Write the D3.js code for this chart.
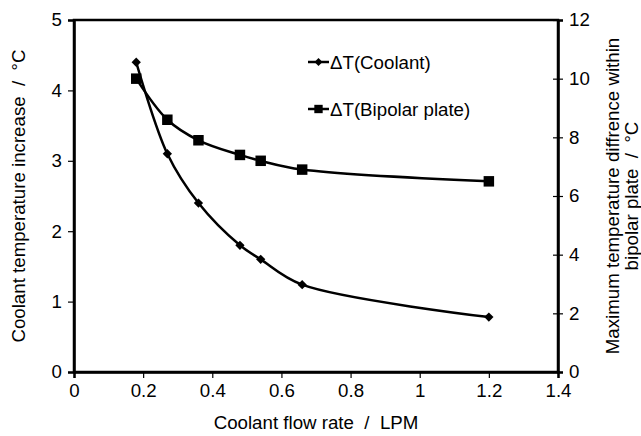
<!DOCTYPE html>
<html>
<head>
<meta charset="utf-8">
<script src="https://cdn.jsdelivr.net/npm/d3@7"></script>
<style>
  html, body { margin: 0; padding: 0; background: #fff; }
  svg { display: block; }
  text { font-family: "Liberation Sans", Arial, sans-serif; fill: #000; }
</style>
</head>
<body>
<svg id="chart" width="641" height="436"></svg>
<script>
// Coolant flow rate (LPM)
const flowRate = [0.18, 0.27, 0.36, 0.48, 0.54, 0.66, 1.2];
// Coolant temperature increase (°C), left axis
const dtCoolant = [4.4, 3.1, 2.4, 1.8, 1.6, 1.24, 0.78];
// Max temperature difference within bipolar plate (°C), right axis
const dtPlate = [10.0, 8.6, 7.9, 7.4, 7.2, 6.9, 6.5];

const xTicks = [0, 0.2, 0.4, 0.6, 0.8, 1, 1.2, 1.4];
const yLeftTicks = [0, 1, 2, 3, 4, 5];
const yRightTicks = [0, 2, 4, 6, 8, 10, 12];

const seriesNames = ["\u0394T(Coolant)", "\u0394T(Bipolar plate)"];

const svg = d3.select("#chart");
const plotL = 74, plotR = 558, plotT = 20, plotB = 372;
const fontSize = "18.7px";

const x = d3.scaleLinear().domain([0, 1.4]).range([plotL, plotR]);
const yL = d3.scaleLinear().domain([0, 5]).range([plotB, plotT]);
const yR = d3.scaleLinear().domain([0, 12]).range([plotB, plotT]);

const fmt = d => String(d);

// Plot frame
svg.append("rect")
  .attr("x", plotL).attr("y", plotT)
  .attr("width", plotR - plotL).attr("height", plotB - plotT)
  .attr("fill", "none").attr("stroke", "#000").attr("stroke-width", 2.5);

// Bottom axis
const gx = svg.append("g").attr("transform", `translate(0,${plotB})`)
  .call(d3.axisBottom(x).tickValues(xTicks).tickFormat(fmt).tickSize(6).tickPadding(6));
// Left axis
const gl = svg.append("g").attr("transform", `translate(${plotL},0)`)
  .call(d3.axisLeft(yL).tickValues(yLeftTicks).tickFormat(fmt).tickSize(6).tickPadding(6));
// Right axis
const gr = svg.append("g").attr("transform", `translate(${plotR},0)`)
  .call(d3.axisRight(yR).tickValues(yRightTicks).tickFormat(fmt).tickSize(5).tickPadding(6));
gr.selectAll(".tick line").attr("x1", -5);

[gx, gl, gr].forEach(g => {
  g.select(".domain").attr("stroke", "#000").attr("stroke-width", 2.5);
  g.selectAll(".tick line").attr("stroke", "#000").attr("stroke-width", 1.2);
  g.selectAll(".tick text")
    .attr("fill", "#000")
    .style("font-family", '"Liberation Sans", Arial, sans-serif')
    .style("font-size", fontSize);
});

// Axis titles
svg.append("text")
  .attr("x", x(0.7)).attr("y", 429)
  .attr("text-anchor", "middle").style("font-size", fontSize).style("white-space", "pre")
  .text("Coolant flow rate  /  LPM");

svg.append("text")
  .attr("transform", `translate(25,${(plotT + plotB) / 2}) rotate(-90)`)
  .attr("text-anchor", "middle").style("font-size", fontSize).style("white-space", "pre")
  .text("Coolant temperature increase  /  \u00B0C");

const rt = svg.append("text")
  .attr("transform", `translate(619,${(plotT + plotB) / 2}) rotate(-90)`)
  .attr("text-anchor", "middle").style("font-size", fontSize).style("white-space", "pre");
rt.append("tspan").attr("x", 0).attr("dy", 0).text("Maximum temperature diffrence within");
rt.append("tspan").attr("x", 0).attr("dy", 19).text("bipolar plate  /  \u00B0C");

// Series
const coolantPts = flowRate.map((f, i) => [x(f), yL(dtCoolant[i])]);
const platePts = flowRate.map((f, i) => [x(f), yR(dtPlate[i])]);

const line = d3.line().curve(d3.curveCatmullRom.alpha(0.5));

svg.append("path").attr("d", line(platePts))
  .attr("fill", "none").attr("stroke", "#000").attr("stroke-width", 2.5);
svg.append("path").attr("d", line(coolantPts))
  .attr("fill", "none").attr("stroke", "#000").attr("stroke-width", 2.5);

const diamond = d3.symbol().type(d3.symbolDiamond2).size(55);
const square = d3.symbol().type(d3.symbolSquare).size(110);

svg.append("g").selectAll("path").data(coolantPts).join("path")
  .attr("transform", d => `translate(${d[0]},${d[1]})`)
  .attr("d", diamond).attr("fill", "#000");
svg.append("g").selectAll("path").data(platePts).join("path")
  .attr("transform", d => `translate(${d[0]},${d[1]})`)
  .attr("d", square).attr("fill", "#000");

// Legend
const legend = svg.append("g");
const legendRows = [
  { name: seriesNames[0], y: 62, sym: d3.symbol().type(d3.symbolDiamond2).size(40) },
  { name: seriesNames[1], y: 109, sym: d3.symbol().type(d3.symbolSquare).size(70) }
];
legendRows.forEach(r => {
  legend.append("line").attr("x1", 308).attr("x2", 329).attr("y1", r.y).attr("y2", r.y)
    .attr("stroke", "#000").attr("stroke-width", 2.5);
  legend.append("path").attr("transform", `translate(318.5,${r.y})`).attr("d", r.sym).attr("fill", "#000");
  legend.append("text").attr("x", 330).attr("y", r.y + 7).style("font-size", fontSize).text(r.name);
});
</script>
</body>
</html>
